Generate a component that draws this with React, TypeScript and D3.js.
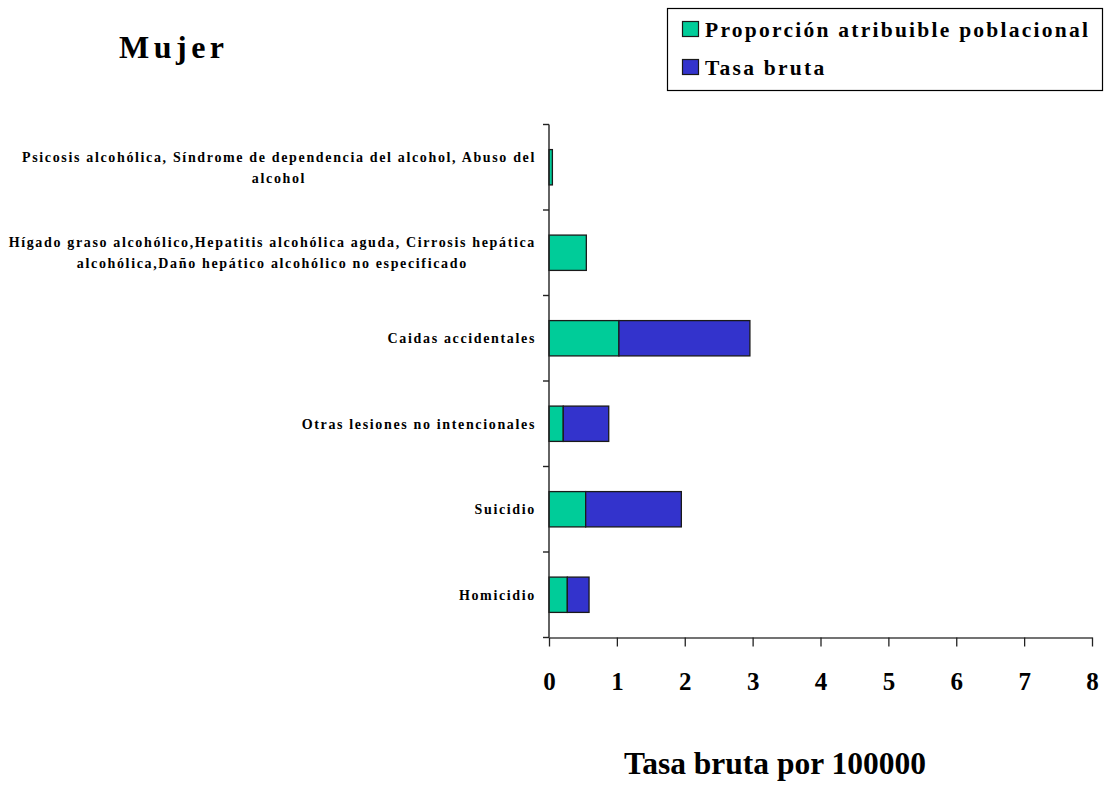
import React, { useEffect, useRef } from 'react';
import * as d3 from 'd3';

const categories = [
  'Psicosis alcohólica, Síndrome de dependencia del alcohol, Abuso del alcohol',
  'Hígado graso alcohólico,Hepatitis alcohólica aguda, Cirrosis hepática alcohólica,Daño hepático alcohólico no especificado',
  'Caidas accidentales',
  'Otras lesiones no intencionales',
  'Suicidio',
  'Homicidio',
];

// wrapped lines of each category label, as shown in the chart
const labelLines = [
  ['Psicosis alcohólica, Síndrome de dependencia del alcohol, Abuso del', 'alcohol'],
  ['Hígado graso alcohólico,Hepatitis alcohólica aguda, Cirrosis hepática', 'alcohólica,Daño hepático alcohólico no especificado'],
  ['Caidas accidentales'],
  ['Otras lesiones no intencionales'],
  ['Suicidio'],
  ['Homicidio'],
];

const proporcion = [0.05, 0.55, 1.03, 0.21, 0.54, 0.27];
const tasaBruta = [0, 0, 1.93, 0.67, 1.41, 0.32];

const xTicks = [0, 1, 2, 3, 4, 5, 6, 7, 8];

const seriesNames = ['Proporción atribuible poblacional', 'Tasa bruta'];
const seriesColors = ['#00CC99', '#3333CC'];

const WIDTH = 1106;
const HEIGHT = 787;
const FONT = '"Liberation Serif", "Times New Roman", serif';

const App: React.FC = () => {
  const svgRef = useRef<SVGSVGElement>(null);

  useEffect(() => {
    if (!svgRef.current) return;
    const svg = d3.select(svgRef.current);
    svg.selectAll('*').remove();

    const x = d3.scaleLinear().domain([0, 8]).range([549, 1092]);
    const y = d3.scaleBand<string>()
      .domain(categories)
      .range([124.5, 637.5])
      .paddingInner(0.587)
      .paddingOuter(0.2935);

    const rows = categories.map((c, i) => ({ cat: c, pap: proporcion[i], tasa: tasaBruta[i] }));
    const stacked = d3.stack<any>().keys(['pap', 'tasa'])(rows);

    const g = svg.append('g');

    // title
    g.append('text')
      .attr('x', 119)
      .attr('y', 58)
      .attr('font-family', FONT)
      .attr('font-weight', 'bold')
      .attr('font-size', '32px')
      .attr('letter-spacing', '4.5px')
      .attr('fill', '#000')
      .text('Mujer');

    // bars
    stacked.forEach((layer, li) => {
      g.append('g')
        .selectAll('rect')
        .data(layer.filter(d => d[1] - d[0] > 0))
        .enter()
        .append('rect')
        .attr('x', d => x(d[0]))
        .attr('y', d => y(d.data.cat) as number)
        .attr('width', d => x(d[1]) - x(d[0]))
        .attr('height', y.bandwidth())
        .attr('fill', seriesColors[li])
        .attr('stroke', '#1a1a1a')
        .attr('stroke-width', 1.3);
    });

    // y axis
    const step = y.step();
    const [r0, r1] = y.range();
    g.append('line')
      .attr('x1', x(0)).attr('x2', x(0))
      .attr('y1', r0).attr('y2', r1)
      .attr('stroke', '#222').attr('stroke-width', 1.4);
    d3.range(categories.length + 1).forEach(i => {
      g.append('line')
        .attr('x1', x(0) - 6).attr('x2', x(0))
        .attr('y1', r0 + i * step).attr('y2', r0 + i * step)
        .attr('stroke', '#222').attr('stroke-width', 1.4);
    });

    // x axis
    const xAxis = d3.axisBottom(x)
      .tickValues(xTicks)
      .tickSize(9)
      .tickSizeOuter(0)
      .tickPadding(10)
      .tickFormat(d3.format('d') as any);
    const ax = g.append('g')
      .attr('transform', `translate(0, ${r1})`)
      .call(xAxis as any);
    ax.select('.domain').attr('stroke', '#444').attr('stroke-width', 1.6);
    ax.selectAll('.tick line').attr('stroke', '#222').attr('stroke-width', 1.3);
    ax.selectAll('.tick text')
      .attr('font-family', FONT)
      .attr('font-weight', 'bold')
      .attr('font-size', '25px')
      .attr('fill', '#000')
      .attr('dy', null)
      .attr('y', 52);

    // x axis title
    g.append('text')
      .attr('x', 775)
      .attr('y', 774)
      .attr('text-anchor', 'middle')
      .attr('font-family', FONT)
      .attr('font-weight', 'bold')
      .attr('font-size', '31.5px')
      .attr('fill', '#000')
      .text('Tasa bruta por 100000');

    // category labels, lines centred on the widest line, block right-aligned
    const labelRight = 536;
    const lineH = 21;
    labelLines.forEach((lines, i) => {
      const cy = (y(categories[i]) as number) + y.bandwidth() / 2;
      const tg = g.append('g');
      const texts = lines.map((ln, j) =>
        tg.append('text')
          .attr('y', cy + (j - (lines.length - 1) / 2) * lineH)
          .attr('dy', '0.35em')
          .attr('text-anchor', 'middle')
          .attr('font-family', FONT)
          .attr('font-weight', 'bold')
          .attr('font-size', '14px')
          .attr('letter-spacing', '1.65px')
          .attr('fill', '#000')
          .text(ln)
      );
      const maxW = d3.max(texts, t => (t.node() as SVGTextElement).getComputedTextLength()) || 0;
      texts.forEach(t => t.attr('x', labelRight - maxW / 2));
    });

    // legend
    const lg = g.append('g');
    lg.append('rect')
      .attr('x', 667.5).attr('y', 8.5)
      .attr('width', 435).attr('height', 82)
      .attr('fill', '#fff')
      .attr('stroke', '#000').attr('stroke-width', 1.2);
    seriesNames.forEach((name, i) => {
      const top = 21 + i * 38;
      lg.append('rect')
        .attr('x', 682.5).attr('y', top + 0.5)
        .attr('width', 16).attr('height', 15)
        .attr('fill', seriesColors[i])
        .attr('stroke', '#1a1a1a').attr('stroke-width', 1.2);
      lg.append('text')
        .attr('x', 705)
        .attr('y', top + 16)
        .attr('font-family', FONT)
        .attr('font-weight', 'bold')
        .attr('font-size', '21.5px')
        .attr('letter-spacing', '2.25px')
        .attr('fill', '#000')
        .text(name);
    });
  }, []);

  return (
    <svg
      ref={svgRef}
      width={WIDTH}
      height={HEIGHT}
      style={{ position: 'absolute', left: 0, top: 0, background: '#fff', display: 'block' }}
    />
  );
};

export default App;
